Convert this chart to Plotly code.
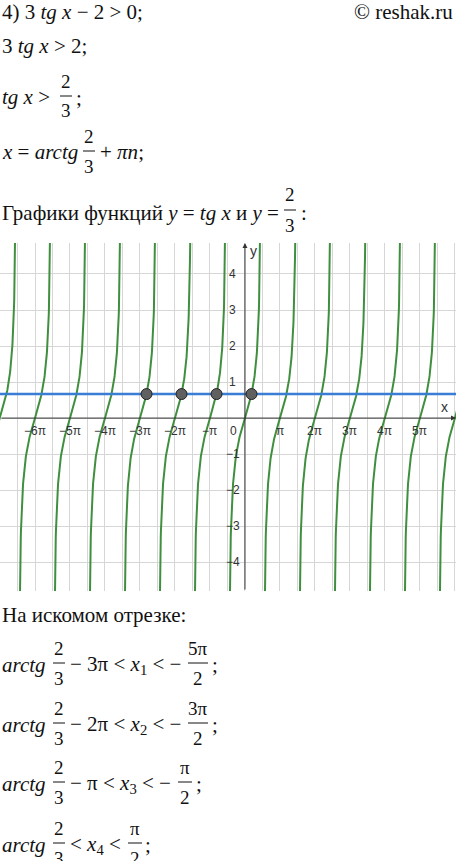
import numpy as np
import plotly.graph_objects as go

W, H = 456, 861
PT, PB = 243, 591          # plot area top/bottom in pixels
PI = np.pi

x_min, x_max = -7.0 * PI, 6.03 * PI
y_min, y_max = -4.8, 4.86

line_level = 2 / 3
branches = list(range(-7, 7))          # tg x branches, centre at n*pi
point_n = [-3, -2, -1, 0]              # intersections on the segment
x_tick_k = [-6, -5, -4, -3, -2, -1, 1, 2, 3, 4, 5]
x_tick_text = ["−6π", "−5π", "−4π", "−3π", "−2π", "−π", "π", "2π", "3π", "4π", "5π"]
y_ticks = [-4, -3, -2, -1, 1, 2, 3, 4]

GREEN = "#3f8f3f"
BLUE = "#3a7dd4"
FONT = "Liberation Serif"
FS = 21

fig = go.Figure()

for n in branches:
    t = np.linspace(-1.42, 1.42, 200)
    fig.add_trace(go.Scatter(x=t + n * PI, y=np.tan(t), mode="lines",
                             line=dict(color=GREEN, width=2), hoverinfo="skip"))

fig.add_trace(go.Scatter(x=[x_min, x_max], y=[line_level, line_level], mode="lines",
                         line=dict(color=BLUE, width=2.5)))

px_ = [np.arctan(line_level) + n * PI for n in point_n]
fig.add_trace(go.Scatter(x=px_, y=[line_level] * len(px_), mode="markers",
                         marker=dict(size=11, color="#606060", line=dict(color="#222", width=1))))

# axes with arrows
fig.add_annotation(x=x_max, y=0, ax=x_min, ay=0, xref="x", yref="y", axref="x", ayref="y",
                   showarrow=True, arrowhead=2, arrowsize=1, arrowwidth=1, arrowcolor="#333",
                   text="", font=dict(size=10))
fig.add_annotation(x=0, y=y_max, ax=0, ay=y_min, xref="x", yref="y", axref="x", ayref="y",
                   showarrow=True, arrowhead=2, arrowsize=1, arrowwidth=1, arrowcolor="#333",
                   text="", font=dict(size=10))

TICKF = dict(family="Arial", size=12, color="#333")
for k, s in zip(x_tick_k, x_tick_text):
    fig.add_annotation(x=k * PI, y=0, text=s, showarrow=False, yshift=-13, font=TICKF)
fig.add_annotation(x=0, y=0, text="0", showarrow=False, xshift=-11, yshift=-13, font=TICKF)
for v in y_ticks:
    fig.add_annotation(x=0, y=v, text="−" + str(-v) if v < 0 else str(v), showarrow=False,
                       xshift=-12, font=TICKF)
fig.add_annotation(x=0, y=y_max, text="y", showarrow=False, xshift=9, yshift=-8,
                   font=dict(family="Arial", size=14, color="#333"))
fig.add_annotation(x=x_max, y=0, text="x", showarrow=False, xshift=-12, yshift=11,
                   font=dict(family="Arial", size=14, color="#333"))


def py(y):
    return (PB - y) / (PB - PT)


def text(x, y, s, size=FS, anchor="left"):
    fig.add_annotation(x=x / W, y=py(y), xref="paper", yref="paper", text=s, showarrow=False,
                       xanchor=anchor, yanchor="middle", font=dict(family=FONT, size=size, color="#111"))


def frac(x, y, num, den, w=12):
    text(x + w / 2, y - 15, num, size=19, anchor="center")
    text(x + w / 2, y + 15, den, size=19, anchor="center")
    fig.add_shape(type="line", xref="paper", yref="paper", x0=x / W, x1=(x + w) / W,
                  y0=py(y), y1=py(y), line=dict(color="#111", width=1))


text(0, 12, "4) 3 <i>tg x</i> − 2 > 0;")
text(455, 12, "© reshak.ru", anchor="right")
text(0, 46, "3 <i>tg x</i> > 2;")
text(0, 97, "<i>tg x</i> >")
frac(60, 96, "2", "3")
text(74, 98, ";")
text(0, 152, "<i>x</i> = <i>arctg</i>")
frac(83, 151, "2", "3")
text(98, 152, "+ <i>πn</i>;")
text(0, 213, "Графики функций <i>y</i> = <i>tg x</i> и <i>y</i> =")
frac(284, 210, "2", "3")
text(299, 213, ":")

text(0, 615, "На искомом отрезке:")
rows = [("− 3π < <i>x</i><sub>1</sub> < −", "5π", 663, 188),
        ("− 2π < <i>x</i><sub>2</sub> < −", "3π", 723, 188),
        ("− π < <i>x</i><sub>3</sub> < −", "π", 782, 178)]
for s, num, y, xe in rows:
    text(0, y + 2, "<i>arctg</i>")
    frac(53, y, "2", "3")
    text(68, y + 2, s)
    w = 20 if num != "π" else 14
    frac(xe, y, num, "2", w=w)
    text(xe + w + 2, y + 2, ";")
text(0, 845, "<i>arctg</i>")
frac(53, 843, "2", "3")
text(68, 845, "< <i>x</i><sub>4</sub> <")
frac(128, 843, "π", "2", w=14)
text(143, 845, ";")

fig.update_xaxes(range=[x_min, x_max], showticklabels=False, zeroline=False,
                 tickmode="linear", tick0=0, dtick=PI / 2, gridcolor="#d6d6d6", gridwidth=1)
fig.update_yaxes(range=[y_min, y_max], showticklabels=False, zeroline=False,
                 tickmode="linear", tick0=0, dtick=1, gridcolor="#d6d6d6", gridwidth=1)
fig.update_layout(width=W, height=H, showlegend=False, plot_bgcolor="white", paper_bgcolor="white",
                  margin=dict(l=0, r=0, t=PT, b=H - PB))

fig.write_html("out.html", config={"displayModeBar": False},
               post_script="document.body.style.margin='0';document.body.style.overflow='hidden';")
